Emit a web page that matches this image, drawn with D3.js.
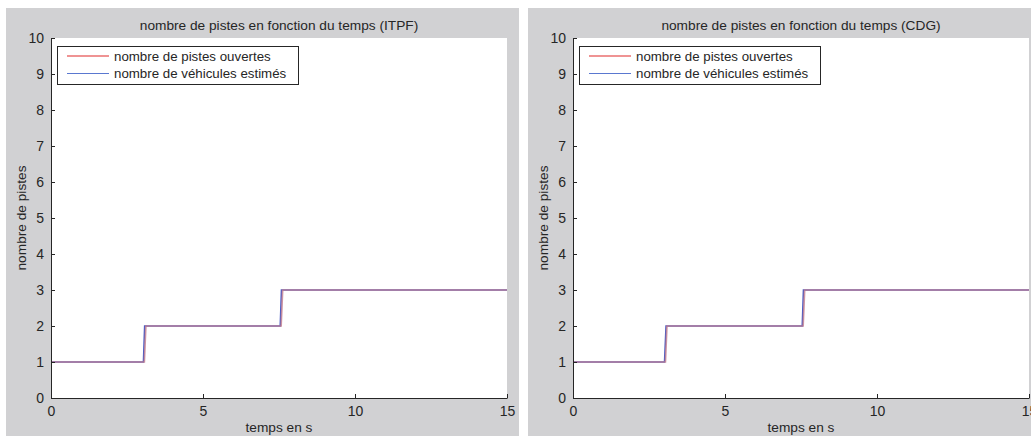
<!DOCTYPE html>
<html><head><meta charset="utf-8">
<script src="https://cdn.jsdelivr.net/npm/d3@7"></script>
<style>
html,body{margin:0;padding:0;background:#fff;overflow:hidden;}
svg{display:block;}
text{font-family:"Liberation Sans",Arial,Helvetica,sans-serif;fill:#262626;}
</style></head>
<body>
<svg id="c" width="1031" height="436"></svg>
<script>
// ---- data ----
const titles = ["nombre de pistes en fonction du temps (ITPF)", "nombre de pistes en fonction du temps (CDG)"];
const legendLabels = ["nombre de pistes ouvertes", "nombre de véhicules estimés"];
const xTicks = [0, 5, 10, 15];
const yTicks = [0,1,2,3,4,5,6,7,8,9,10];
// series per panel: time, value
const itpfTimeOpen = [0, 3.07, 3.12, 7.57, 7.62, 15];
const itpfOpen     = [1, 1, 2, 2, 3, 3];
const itpfTimeEst  = [0, 3.04, 3.08, 7.54, 7.58, 15];
const itpfEst      = [1, 1, 2, 2, 3, 3];
const cdgTimeOpen  = [0, 3.04, 3.09, 7.57, 7.62, 15];
const cdgOpen      = [1, 1, 2, 2, 3, 3];
const cdgTimeEst   = [0, 3.01, 3.06, 7.54, 7.58, 15];
const cdgEst       = [1, 1, 2, 2, 3, 3];

const svg = d3.select("#c");
const panels = [
  {px: 6, title: titles[0], open: itpfTimeOpen.map((t,i)=>[t,itpfOpen[i]]), est: itpfTimeEst.map((t,i)=>[t,itpfEst[i]])},
  {px: 528, title: titles[1], open: cdgTimeOpen.map((t,i)=>[t,cdgOpen[i]]), est: cdgTimeEst.map((t,i)=>[t,cdgEst[i]])}
];

panels.forEach(p => {
  const g = svg.append("g").attr("transform", `translate(${p.px},0)`);
  g.append("rect").attr("x",0).attr("y",8).attr("width",513).attr("height",440).attr("fill","#d1d1d3");
  const L = 45, R = 501, T = 38, B = 398;
  const x = d3.scaleLinear().domain([0,15]).range([L,R]);
  const y = d3.scaleLinear().domain([0,10]).range([B,T]);
  g.append("rect").attr("x",L).attr("y",T).attr("width",R-L).attr("height",B-T).attr("fill","#fff");

  const line = d3.line().x(d=>x(d[0])).y(d=>y(d[1]));
  g.append("path").datum(p.est).attr("d",line).attr("fill","none").attr("stroke","#4a5cc4").attr("stroke-width",1.5);
  g.append("path").datum(p.open).attr("d",line).attr("fill","none").attr("stroke","#c07a8c").attr("stroke-width",1.7).attr("stroke-opacity",0.8);

  const xa = g.append("g").attr("transform",`translate(0,${B})`)
    .call(d3.axisBottom(x).tickValues(xTicks).tickSizeInner(-4).tickSizeOuter(0).tickPadding(8));
  const ya = g.append("g").attr("transform",`translate(${L},0)`)
    .call(d3.axisLeft(y).tickValues(yTicks).tickSizeInner(-4).tickSizeOuter(0).tickPadding(7));
  [xa,ya].forEach(a=>{
    a.select(".domain").attr("stroke","#262626").attr("stroke-width",1);
    a.selectAll(".tick line").attr("stroke","#262626");
    a.selectAll("text").style("font-size","14px").style("font-family","'Liberation Sans',Arial,sans-serif").attr("fill","#262626");
  });
  ya.selectAll("text").attr("dy","0.35em");

  g.append("text").attr("x",(L+R)/2).attr("y",30).attr("text-anchor","middle").style("font-size","13.7px").text(p.title);
  g.append("text").attr("x",(L+R)/2).attr("y",432).attr("text-anchor","middle").style("font-size","13.7px").text("temps en s");
  g.append("text").attr("transform",`translate(20,${(T+B)/2}) rotate(-90)`).attr("text-anchor","middle").style("font-size","13.7px").text("nombre de pistes");

  // legend
  const lg = g.append("g").attr("transform",`translate(${L+6},46)`);
  lg.append("rect").attr("x",0.5).attr("y",0.5).attr("width",241).attr("height",38).attr("fill","#fff").attr("stroke","#262626").attr("stroke-width",1);
  const colors = ["#e02828","#5a78d0"];
  legendLabels.forEach((lab,i)=>{
    const yy = 10 + i*17.5;
    lg.append("line").attr("x1",10).attr("x2",52).attr("y1",yy).attr("y2",yy).attr("stroke",colors[i]).attr("stroke-width",1.2);
    lg.append("text").attr("x",57).attr("y",yy).attr("dy","0.35em").style("font-size","13.3px").text(lab);
  });
});
</script>
</body></html>
